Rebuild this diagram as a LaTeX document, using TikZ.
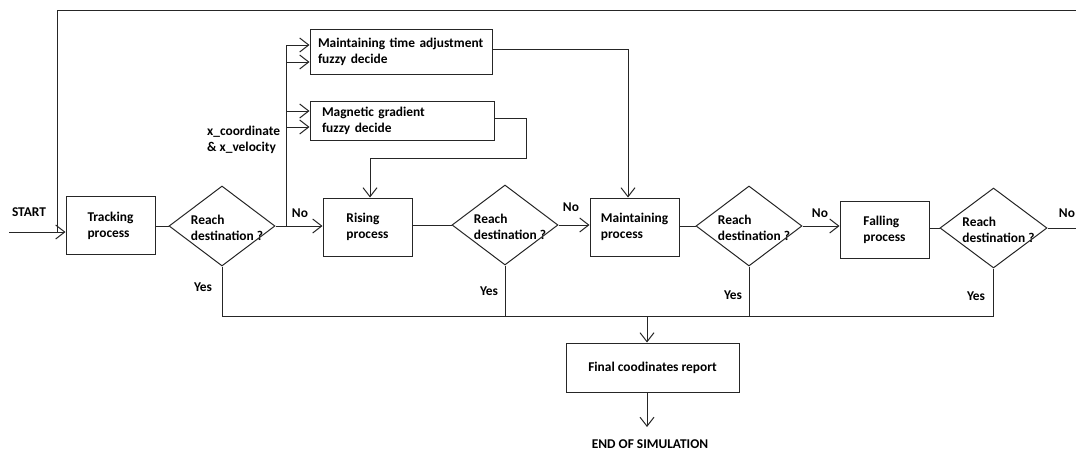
\documentclass[tikz,border=0pt]{standalone}
\usepackage{fontspec}
\setmainfont{Carlito}
\usetikzlibrary{arrows.meta,shapes.geometric}
\begin{document}
\begin{tikzpicture}[x=1pt,y=-1pt,
  every node/.style={font=\fontsize{13.4}{16}\selectfont\bfseries, text=black},
  ln/.style={draw=black!85, line width=1pt},
  arr/.style={ln, -{Straight Barb[length=9pt,width=14pt]}},
  proc/.style={ln, rectangle, minimum width=89pt, minimum height=58pt, align=left, inner sep=0pt},
  dec/.style={ln, diamond, minimum width=106pt, minimum height=80pt, inner sep=0pt},
  dtext/.style={align=left, inner sep=0pt, xshift=5pt, yshift=-2pt},
  fuzzy/.style={ln, rectangle, align=left, inner ysep=0pt},
  lbl/.style={inner sep=0pt}
]
\path[use as bounding box] (0,0) rectangle (1076,450);

% process boxes
\node[proc] (track) at (110.5,225.5) {Tracking\\process};
\node[proc] (rising) at (367.5,227) {Rising\\process};
\node[proc] (maint) at (634.5,227) {Maintaining\\process};
\node[proc, minimum height=57pt] (falling) at (884.5,229.5) {Falling\\process};

% decisions
\node[dec, label={[dtext]center:{Reach\\destination ?}}] (d1) at (222,226) {};
\node[dec, label={[dtext]center:{Reach\\destination ?}}] (d2) at (505,225) {};
\node[dec, label={[dtext]center:{Reach\\destination ?}}] (d3) at (749,226) {};
\node[dec, minimum width=107pt, label={[dtext]center:{Reach\\destination ?}}] (d4) at (993.5,228) {};

% fuzzy boxes
\node[fuzzy, text width=166pt, inner xsep=8pt, minimum height=45pt] (mta) at (401,51.5) {\mbox{Maintaining time adjustment}\\fuzzy decide};
\node[fuzzy, text width=160pt, inner xsep=12pt, minimum height=39pt] (mg) at (402,120.5) {Magnetic gradient\\fuzzy decide};

% final
\node[ln, rectangle, minimum width=173pt, minimum height=49pt] (final) at (652.5,367.5) {Final coodinates report};
\node[lbl] (endsim) at (650,444) {END OF SIMULATION};

% texts
\node[lbl] (startlbl) at (29,212) {START};
\node[lbl, align=left, anchor=west] (xlbl) at (207,140) {x\_coordinate\\\& x\_velocity};
\node[lbl] (no1) at (300,213) {No};
\node[lbl] (no2) at (571,207) {No};
\node[lbl] (no3) at (820,213) {No};
\node[lbl] (no4) at (1067,213) {No};
\node[lbl] (yes1) at (203,287) {Yes};
\node[lbl] (yes2) at (489,291) {Yes};
\node[lbl] (yes3) at (733,295) {Yes};
\node[lbl] (yes4) at (976,296) {Yes};

% coordinates
\coordinate (start) at (9,232);
\coordinate (tl) at (57,10);
\coordinate (tr) at (1076,10);
\coordinate (btop) at (286,45);
\coordinate (b2) at (286,62);
\coordinate (b3) at (286,111);
\coordinate (b4) at (286,127);
\coordinate (m1) at (628,49);
\coordinate (g1) at (526,118);
\coordinate (g2) at (526,158);
\coordinate (g3) at (370,158);
\coordinate (noend) at (1076,228);
\coordinate (bus) at (0,316);
\coordinate (fa) at (647,316);
\coordinate (ea) at (647,427);

% connectors
\draw[arr] (start) -- (start -| track.west);
\draw[ln] (tr) -- (tl) -- (tl |- start);
\draw[ln] (track.east |- d1.west) -- (d1.west);
\draw[arr] (d1.east) -- (d1.east -| rising.west);
\draw[ln] (d1.east -| btop) -- (btop);
\draw[arr] (btop) -- (btop -| mta.west);
\draw[arr] (b2) -- (b2 -| mta.west);
\draw[arr] (b3) -- (b3 -| mg.west);
\draw[arr] (b4) -- (b4 -| mg.west);
\draw[arr] (mta.east |- m1) -- (m1) -- (m1 |- maint.north);
\draw[arr] (mg.east |- g1) -- (g1) -- (g2) -- (g3) -- (g3 |- rising.north);
\draw[ln] (d2.west -| rising.east) -- (d2.west);
\draw[arr] (d2.east) -- (d2.east -| maint.west);
\draw[ln] (d3.west -| maint.east) -- (d3.west);
\draw[arr] (d3.east) -- (d3.east -| falling.west);
\draw[ln] (d4.west -| falling.east) -- (d4.west);
\draw[ln] (d4.east) -- (d4.east -| noend);
\draw[ln] (d1.south) -- (d1.south |- bus) -- (d4.south |- bus) -- (d4.south);
\draw[ln] (d2.south) -- (d2.south |- bus);
\draw[ln] (d3.south) -- (d3.south |- bus);
\draw[arr] (fa) -- (fa |- final.north);
\draw[arr] (fa |- final.south) -- (ea);
\end{tikzpicture}
\end{document}
